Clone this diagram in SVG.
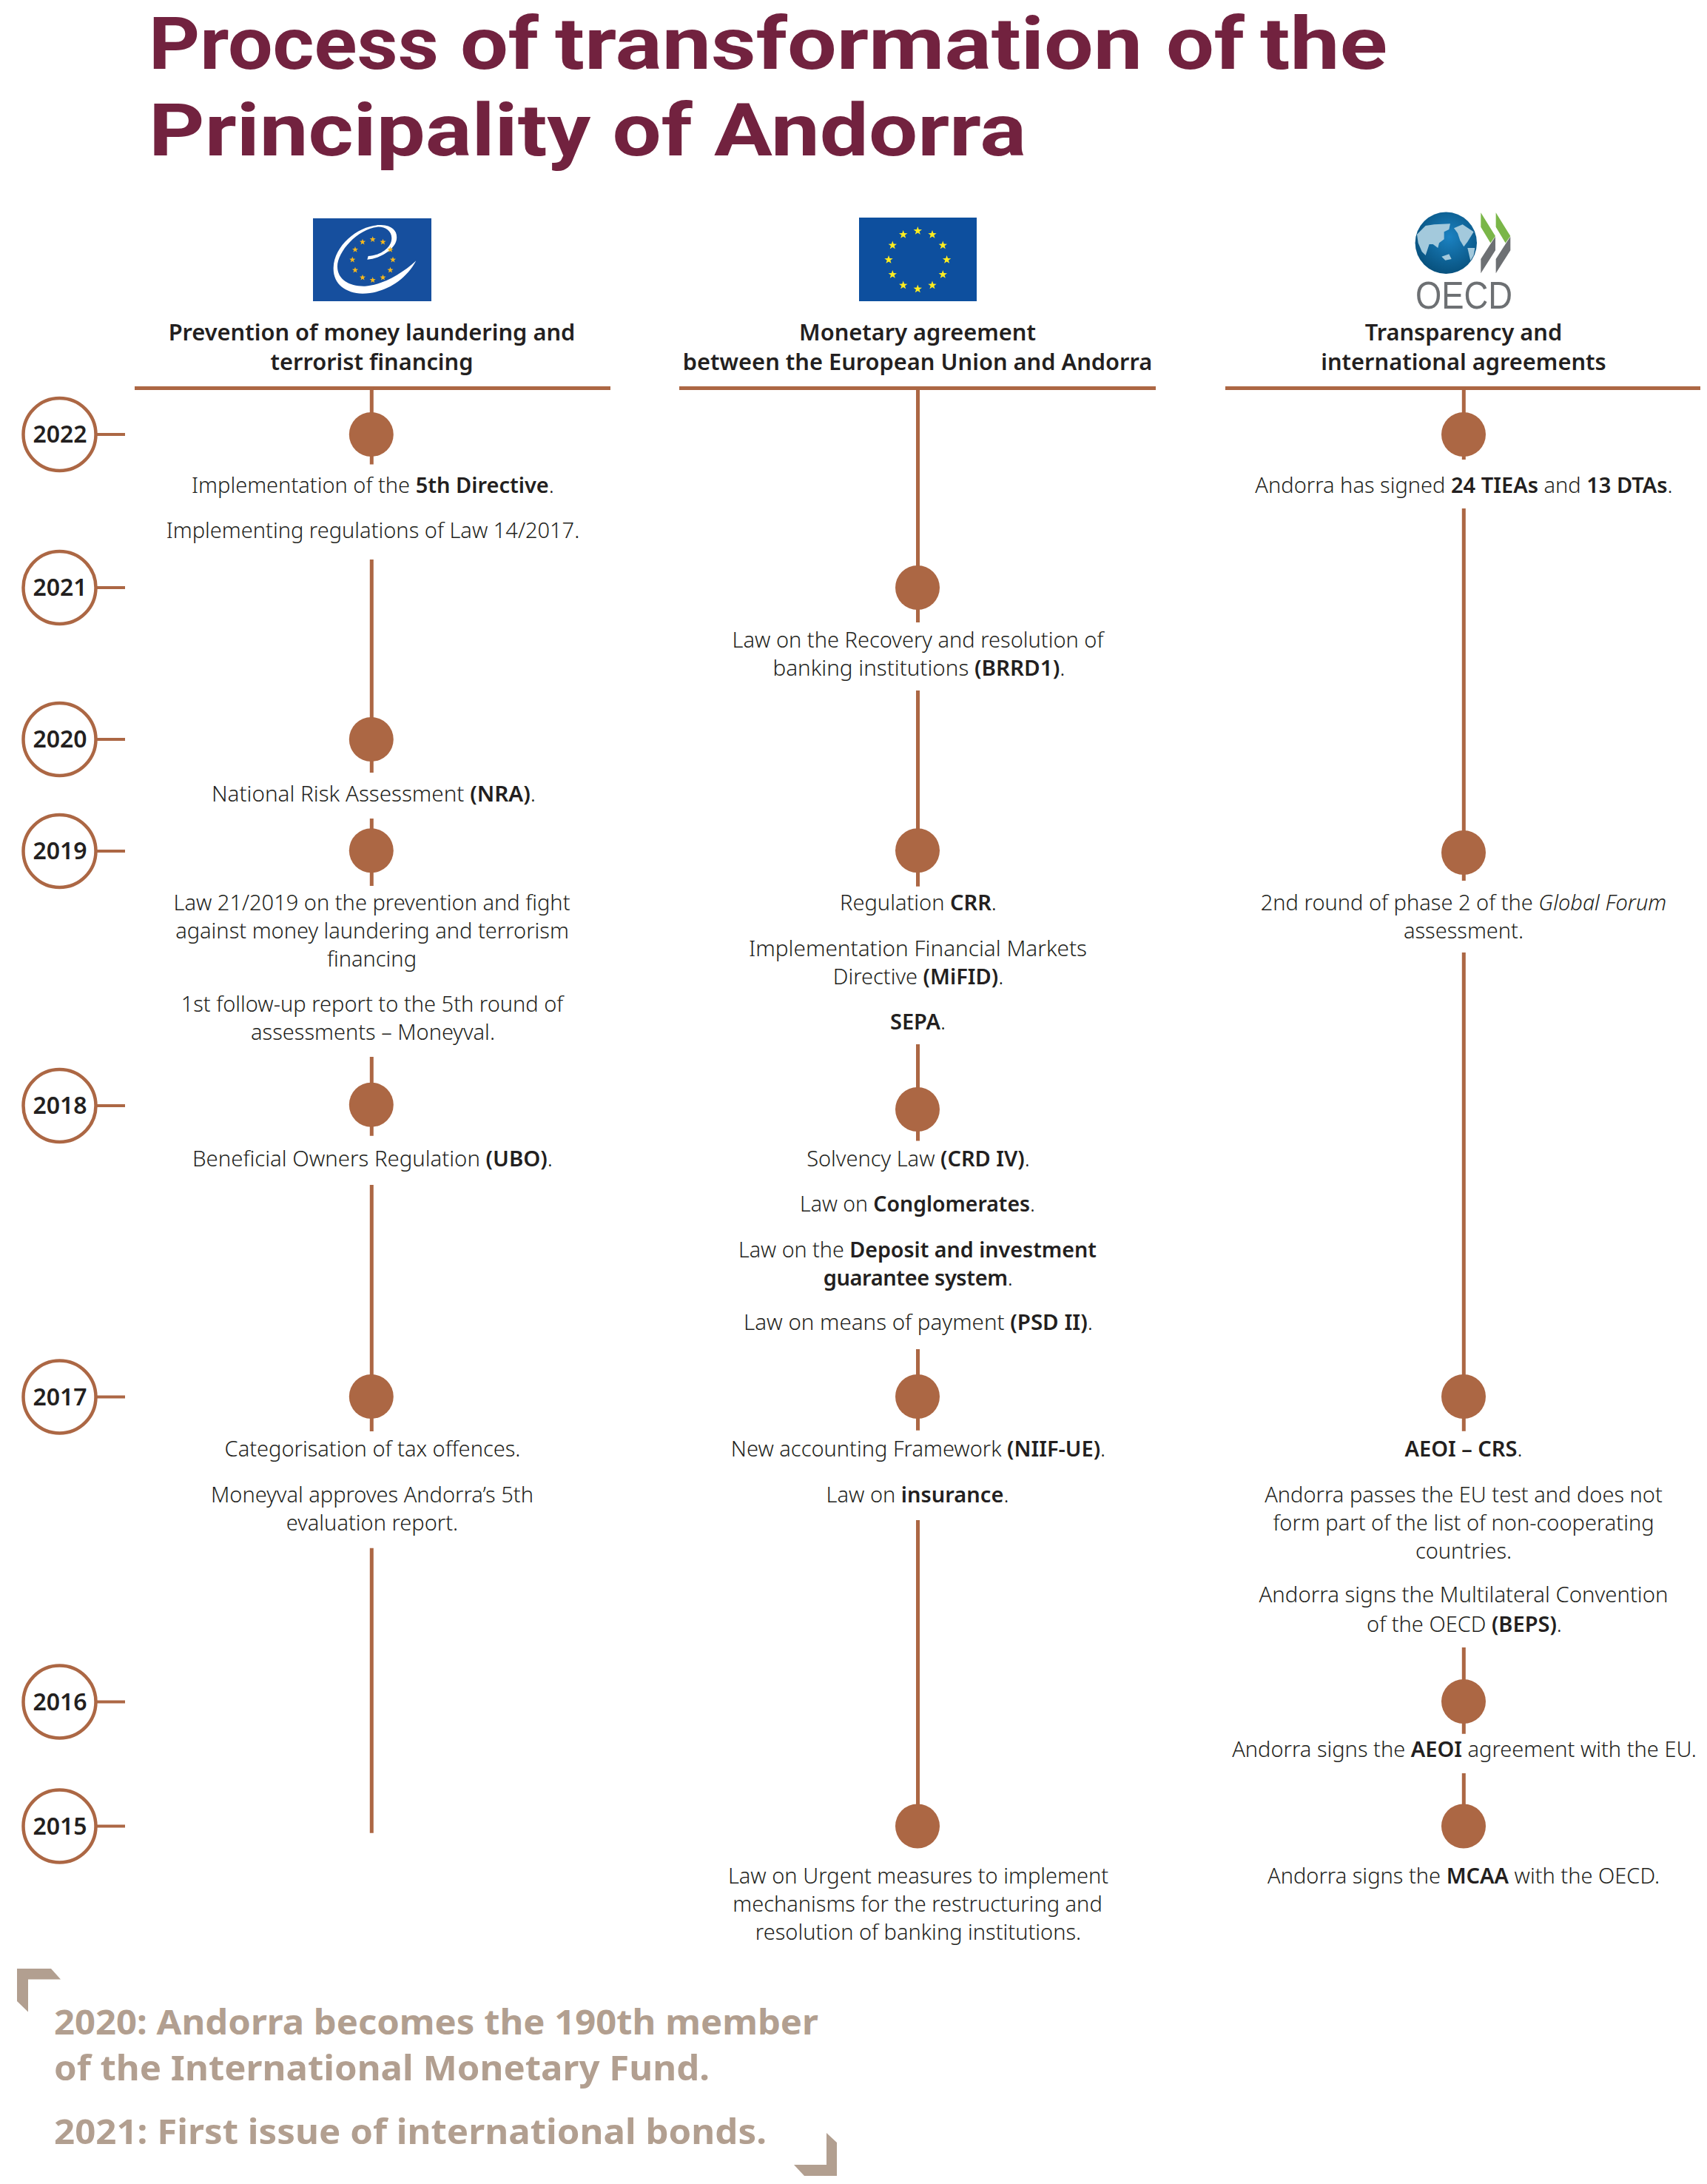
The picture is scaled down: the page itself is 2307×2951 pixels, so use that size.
<svg xmlns="http://www.w3.org/2000/svg" width="2307" height="2951" viewBox="0 0 2307 2951">
<style>
text{font-family:"Noto Sans","Open Sans",sans-serif}
.t{font-size:99px;font-weight:700;fill:#72223f;font-family:Roboto,"Noto Sans",sans-serif}
.h{font-size:30.8px;font-weight:600;fill:#231f20;text-anchor:middle}
.b{font-size:29px;font-weight:300;fill:#231f20;text-anchor:middle}
.b tspan{font-weight:600}
.y{font-size:32px;font-weight:600;fill:#231f20;text-anchor:middle}
.n{font-size:47px;font-weight:700;fill:#b29f90}
.ring{fill:#fff;stroke:#ac6744;stroke-width:4.5}
.dot{fill:#ac6744}
.c{stroke:#ac6744;stroke-width:5;fill:none}
.k{stroke:#ac6744;stroke-width:4;fill:none}
.r{stroke:#ac6744;stroke-width:5;fill:none}
</style>
<defs>
<polygon id="s" points="0,-1 0.235,-0.324 0.951,-0.309 0.38,0.124 0.588,0.809 0,0.4 -0.588,0.809 -0.38,0.124 -0.951,-0.309 -0.235,-0.324"/>
<radialGradient id="gl" cx="55%" cy="40%" r="62%"><stop offset="0" stop-color="#1b82c2"/><stop offset="1" stop-color="#07507c"/></radialGradient>
</defs>
<g id="title">
<text class="t" y="93"><tspan x="201" textLength="392" lengthAdjust="spacingAndGlyphs">Process</tspan> <tspan x="622" textLength="106" lengthAdjust="spacingAndGlyphs">of</tspan> <tspan x="750" textLength="794" lengthAdjust="spacingAndGlyphs">transformation</tspan> <tspan x="1576" textLength="106" lengthAdjust="spacingAndGlyphs">of</tspan> <tspan x="1703" textLength="172" lengthAdjust="spacingAndGlyphs">the</tspan></text>
<text class="t" x="201" y="210" textLength="1186" lengthAdjust="spacingAndGlyphs">Principality of Andorra</text>
</g>
<g id="logo-coe">
<rect x="423" y="295" width="160" height="112" fill="#164f9e"/>
<path transform="translate(400 270) scale(.3333)" fill="#fff" d="M487,247C440,335 350,380 270,380C200,378 150,340 152,275C155,180 260,100 345,102C395,104 412,130 408,160C404,195 350,238 289,242L293,228C330,228 388,200 388,155C388,125 360,108 330,110C250,118 168,210 168,270C168,325 220,352 280,350C350,346 430,300 487,247Z"/>
<g fill="#f9b91b">
<use href="#s" transform="translate(503.7 323.5) scale(4.3)"/><use href="#s" transform="translate(517.5 327) scale(4.3)"/><use href="#s" transform="translate(527.5 337.3) scale(4.3)"/><use href="#s" transform="translate(531 351) scale(4.3)"/><use href="#s" transform="translate(527.5 365) scale(4.3)"/><use href="#s" transform="translate(517.5 375) scale(4.3)"/><use href="#s" transform="translate(503.7 378.5) scale(4.3)"/><use href="#s" transform="translate(490 375) scale(4.3)"/><use href="#s" transform="translate(480 365) scale(4.3)"/><use href="#s" transform="translate(476.3 351) scale(4.3)"/><use href="#s" transform="translate(480 337.3) scale(4.3)"/><use href="#s" transform="translate(490 327) scale(4.3)"/>
</g>
</g>
<g id="logo-eu">
<rect x="1161" y="294" width="159" height="113" fill="#0d4f9e"/>
<g fill="#ffed1f">
<use href="#s" transform="translate(1240.3 312) scale(6)"/><use href="#s" transform="translate(1260 317) scale(6)"/><use href="#s" transform="translate(1274.3 331.5) scale(6)"/><use href="#s" transform="translate(1279.6 351) scale(6)"/><use href="#s" transform="translate(1274.3 371) scale(6)"/><use href="#s" transform="translate(1260 385.5) scale(6)"/><use href="#s" transform="translate(1240.3 390.5) scale(6)"/><use href="#s" transform="translate(1220.7 385.5) scale(6)"/><use href="#s" transform="translate(1206.3 371) scale(6)"/><use href="#s" transform="translate(1201 351) scale(6)"/><use href="#s" transform="translate(1206.3 331.5) scale(6)"/><use href="#s" transform="translate(1220.7 317) scale(6)"/>
</g>
</g>
<g id="logo-oecd">
<circle cx="1954.3" cy="328.3" r="41.7" fill="url(#gl)"/>
<g transform="translate(1880 270) scale(.3333)">
<path fill="#a3c9dc" d="M105,140L140,105L175,100L240,97L235,120L215,130L215,160L195,175L190,195L170,180L155,180L140,225L125,210L110,175ZM255,115L290,100L335,130L310,170L295,190L280,165L270,135ZM310,195L340,195L335,225L322,247ZM205,230L235,220L245,240L220,245Z"/>
<path fill="#7ab648" d="M364,52L423,147L403,175L364,110ZM425,52L484,147L464,175L425,110Z"/>
<path fill="#6d7073" d="M423,149L423,205L364,298L364,240L404,178ZM484,149L484,205L425,298L425,240L465,178Z"/>
</g>
<text x="1978.5" y="416.5" font-size="52" fill="#6d7073" text-anchor="middle" textLength="131" lengthAdjust="spacingAndGlyphs" style="font-family:'Liberation Sans',sans-serif">OECD</text>
</g>
<g id="connectors">
<path class="r" d="M182 524.5H825M918 524.5H1562M1656 524.5H2298"/>
<path class="c" d="M502.3 524V627.5M502.3 756V1044M502.3 1106V1197M502.3 1428V1534.7M502.3 1601V1934M502.3 2091.7V2476.7"/>
<path class="c" d="M1240.5 524V841M1240.5 933V1197.7M1240.5 1411V1541.6M1240.5 1823V1932.7M1240.5 2054V2467"/>
<path class="c" d="M1978.3 524V621M1978.3 687V1190M1978.3 1287V1933.7M1978.3 2226V2342.7M1978.3 2396V2467"/>
<path class="k" d="M130 587H169M130 794H169M130 999H169M130 1150H169M130 1494H169M130 1887.5H169M130 2299.5H169M130 2467.5H169"/>
</g>
<g id="year-2022"><circle class="ring" cx="80.5" cy="587" r="49"/><text class="y" x="81" y="598">2022</text></g>
<g id="year-2021"><circle class="ring" cx="80.5" cy="794" r="49"/><text class="y" x="81" y="805">2021</text></g>
<g id="year-2020"><circle class="ring" cx="80.5" cy="999" r="49"/><text class="y" x="81" y="1010">2020</text></g>
<g id="year-2019"><circle class="ring" cx="80.5" cy="1150" r="49"/><text class="y" x="81" y="1161">2019</text></g>
<g id="year-2018"><circle class="ring" cx="80.5" cy="1494" r="49"/><text class="y" x="81" y="1505">2018</text></g>
<g id="year-2017"><circle class="ring" cx="80.5" cy="1887.5" r="49"/><text class="y" x="81" y="1899">2017</text></g>
<g id="year-2016"><circle class="ring" cx="80.5" cy="2299.5" r="49"/><text class="y" x="81" y="2311">2016</text></g>
<g id="year-2015"><circle class="ring" cx="80.5" cy="2467.5" r="49"/><text class="y" x="81" y="2479">2015</text></g>
<g id="col1-head"><text class="h" x="502.5" y="460">Prevention of money laundering and</text><text class="h" x="502.5" y="500">terrorist financing</text></g>
<g id="col2-head"><text class="h" x="1240" y="460">Monetary agreement</text><text class="h" x="1240" y="500">between the European Union and Andorra</text></g>
<g id="col3-head"><text class="h" x="1978" y="460">Transparency and</text><text class="h" x="1978" y="500">international agreements</text></g>
<g id="c1-2022"><circle class="dot" cx="501.8" cy="587" r="30"/><text class="b" x="504" y="666">Implementation of the <tspan>5th Directive</tspan>.</text><text class="b" x="504" y="727">Implementing regulations of Law 14/2017.</text></g>
<g id="c1-2020"><circle class="dot" cx="501.8" cy="999" r="30"/><text class="b" x="505" y="1083" textLength="438" lengthAdjust="spacingAndGlyphs">National Risk Assessment <tspan>(NRA)</tspan>.</text></g>
<g id="c1-2019"><circle class="dot" cx="501.8" cy="1149.3" r="30"/><text class="b" x="502.5" y="1230">Law 21/2019 on the prevention and fight</text><text class="b" x="503" y="1268">against money laundering and terrorism</text><text class="b" x="502.5" y="1306">financing</text><text class="b" x="503" y="1367">1st follow-up report to the 5th round of</text><text class="b" x="504" y="1405">assessments – Moneyval.</text></g>
<g id="c1-2018"><circle class="dot" cx="501.8" cy="1492.7" r="30"/><text class="b" x="503.5" y="1576" textLength="487" lengthAdjust="spacingAndGlyphs">Beneficial Owners Regulation <tspan>(UBO)</tspan>.</text></g>
<g id="c1-2017"><circle class="dot" cx="501.8" cy="1887" r="30"/><text class="b" x="503.5" y="1968">Categorisation of tax offences.</text><text class="b" x="503" y="2030">Moneyval approves Andorra’s 5th</text><text class="b" x="503" y="2068">evaluation report.</text></g>
<g id="c2-2021"><circle class="dot" cx="1240" cy="794" r="30"/><text class="b" x="1240.5" y="875">Law on the Recovery and resolution of</text><text class="b" x="1242" y="913" textLength="395" lengthAdjust="spacingAndGlyphs">banking institutions <tspan>(BRRD1)</tspan>.</text></g>
<g id="c2-2019"><circle class="dot" cx="1240" cy="1149.3" r="30"/><text class="b" x="1241" y="1230">Regulation <tspan>CRR</tspan>.</text><text class="b" x="1240.5" y="1292" textLength="457" lengthAdjust="spacingAndGlyphs">Implementation Financial Markets</text><text class="b" x="1241" y="1330">Directive <tspan>(MiFID)</tspan>.</text><text class="b" x="1240.5" y="1391"><tspan>SEPA</tspan>.</text></g>
<g id="c2-2018"><circle class="dot" cx="1240" cy="1499" r="30"/><text class="b" x="1241" y="1576">Solvency Law <tspan>(CRD IV)</tspan>.</text><text class="b" x="1240" y="1637" textLength="318" lengthAdjust="spacingAndGlyphs">Law on <tspan>Conglomerates</tspan>.</text><text class="b" x="1240" y="1699" textLength="484" lengthAdjust="spacingAndGlyphs">Law on the <tspan>Deposit and investment</tspan></text><text class="b" x="1240.5" y="1737" letter-spacing="-0.4"><tspan>guarantee system</tspan>.</text><text class="b" x="1241" y="1797" textLength="472" lengthAdjust="spacingAndGlyphs">Law on means of payment <tspan>(PSD II)</tspan>.</text></g>
<g id="c2-2017"><circle class="dot" cx="1240" cy="1887" r="30"/><text class="b" x="1241" y="1968">New accounting Framework <tspan>(NIIF-UE)</tspan>.</text><text class="b" x="1240" y="2030">Law on <tspan>insurance</tspan>.</text></g>
<g id="c2-2015"><circle class="dot" cx="1240" cy="2467.5" r="30"/><text class="b" x="1241" y="2545">Law on Urgent measures to implement</text><text class="b" x="1240" y="2583">mechanisms for the restructuring and</text><text class="b" x="1241" y="2621">resolution of banking institutions.</text></g>
<g id="c3-2022"><circle class="dot" cx="1978" cy="587" r="30"/><text class="b" x="1978.5" y="666">Andorra has signed <tspan>24 TIEAs</tspan> and <tspan>13 DTAs</tspan>.</text></g>
<g id="c3-2019"><circle class="dot" cx="1978" cy="1152" r="30"/><text class="b" x="1978" y="1230">2nd round of phase 2 of the <tspan style="font-weight:300;font-style:italic">Global Forum</tspan></text><text class="b" x="1978" y="1268">assessment.</text></g>
<g id="c3-2017"><circle class="dot" cx="1978" cy="1887" r="30"/><text class="b" x="1978" y="1968"><tspan>AEOI – CRS</tspan>.</text><text class="b" x="1978" y="2030">Andorra passes the EU test and does not</text><text class="b" x="1978" y="2068">form part of the list of non-cooperating</text><text class="b" x="1978" y="2106">countries.</text><text class="b" x="1978" y="2165" textLength="553" lengthAdjust="spacingAndGlyphs">Andorra signs the Multilateral Convention</text><text class="b" x="1979" y="2205">of the OECD <tspan>(BEPS)</tspan>.</text></g>
<g id="c3-2016"><circle class="dot" cx="1978" cy="2299" r="30"/><text class="b" x="1979" y="2374">Andorra signs the <tspan>AEOI</tspan> agreement with the EU.</text></g>
<g id="c3-2015"><circle class="dot" cx="1978" cy="2467.5" r="30"/><text class="b" x="1978" y="2545">Andorra signs the <tspan>MCAA</tspan> with the OECD.</text></g>
<g id="note">
<polygon fill="#b29f90" points="23,2660 69,2660 82,2674.4 38,2674.4 38,2718.5 23,2704"/>
<polygon fill="#b29f90" points="1131,2940 1087,2940 1073,2925 1117,2925 1117,2882 1131,2895"/>
<text class="n" x="73" y="2749" textLength="1033" lengthAdjust="spacingAndGlyphs">2020: Andorra becomes the 190th member</text>
<text class="n" x="73" y="2811" textLength="886" lengthAdjust="spacingAndGlyphs">of the International Monetary Fund.</text>
<text class="n" x="73" y="2897" textLength="963" lengthAdjust="spacingAndGlyphs">2021: First issue of international bonds.</text>
</g>
</svg>
